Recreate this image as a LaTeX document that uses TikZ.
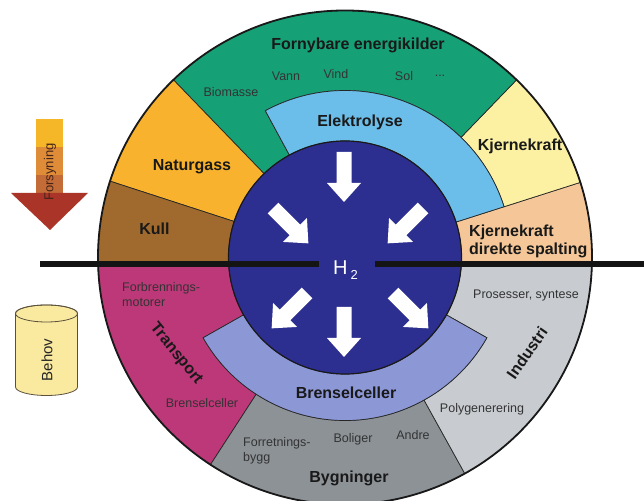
\documentclass[tikz,border=0pt]{standalone}
\usepackage{fontspec}
\setmainfont{Liberation Sans}
\definecolor{renew}{RGB}{22,160,118}
\definecolor{gas}{RGB}{248,178,46}
\definecolor{coal}{RGB}{160,106,46}
\definecolor{nuclear}{RGB}{252,240,163}
\definecolor{direct}{RGB}{245,199,152}
\definecolor{electro}{RGB}{108,190,234}
\definecolor{hcore}{RGB}{44,47,143}
\definecolor{fuelcell}{RGB}{140,151,214}
\definecolor{transp}{RGB}{189,56,120}
\definecolor{build}{RGB}{141,146,151}
\definecolor{indust}{RGB}{200,204,208}
\definecolor{cylfill}{RGB}{250,234,160}
\definecolor{cylline}{RGB}{90,80,60}
\definecolor{supA}{RGB}{245,182,40}
\definecolor{supB}{RGB}{222,140,55}
\definecolor{supC}{RGB}{196,108,55}
\definecolor{supD}{RGB}{170,52,40}
\definecolor{suptext}{RGB}{70,35,25}
\newcommand\wRi{116.5}
\newcommand\wRe{167}
\newcommand\wRf{163}
\newcommand\wRo{247}
\begin{document}
\begin{tikzpicture}[x=1pt,y=1pt,
  sector/.style={draw=black!85, line width=0.7pt},
  boldlabel/.style={font=\fontsize{16}{18}\selectfont\bfseries, text=black!90, inner sep=0pt},
  smalllabel/.style={font=\fontsize{12.5}{15}\selectfont, text=black!80, inner sep=0pt},
  whitearrow/.pic={\fill[white] (0,-7.5) -- (31,-7.5) -- (31,-17) -- (50,0) -- (31,17) -- (31,7.5) -- (0,7.5) -- cycle;}
]
\useasboundingbox (0,0) rectangle (644,500);

% ---- wheel ----
\begin{scope}[shift={(345,242.5)}]
  % upper half: supply side
  \begin{scope}
    \clip (-345,-6.5) rectangle (299,257.5);
    \filldraw[sector, fill=direct] (-5:\wRo) arc[start angle=-5, end angle=17.7, radius=\wRo]
      -- (17.7:\wRi) arc[start angle=17.7, end angle=-5, radius=\wRi] -- cycle;
    \filldraw[sector, fill=nuclear] (17.7:\wRo) arc[start angle=17.7, end angle=46, radius=\wRo]
      -- (46:\wRe) arc[start angle=46, end angle=17.7, radius=\wRe] -- cycle;
    \filldraw[sector, fill=renew] (46:\wRo) arc[start angle=46, end angle=134, radius=\wRo]
      -- (134:\wRi) arc[start angle=134, end angle=118.5, radius=\wRi]
      -- (118.5:\wRe) arc[start angle=118.5, end angle=46, radius=\wRe] -- cycle;
    \filldraw[sector, fill=gas] (134:\wRo) arc[start angle=134, end angle=162, radius=\wRo]
      -- (162:\wRi) arc[start angle=162, end angle=134, radius=\wRi] -- cycle;
    \filldraw[sector, fill=coal] (162:\wRo) arc[start angle=162, end angle=185, radius=\wRo]
      -- (185:\wRi) arc[start angle=185, end angle=162, radius=\wRi] -- cycle;
    \filldraw[sector, fill=electro] (17.7:\wRe) arc[start angle=17.7, end angle=118.5, radius=\wRe]
      -- (118.5:\wRi) arc[start angle=118.5, end angle=17.7, radius=\wRi] -- cycle;
  \end{scope}
  % lower half: demand side
  \begin{scope}
    \clip (-345,-6.5) rectangle (299,-260);
    \filldraw[sector, fill=transp] (175:\wRo) arc[start angle=175, end angle=237, radius=\wRo]
      -- (237:\wRf) arc[start angle=237, end angle=209.5, radius=\wRf]
      -- (209.5:\wRi) arc[start angle=209.5, end angle=175, radius=\wRi] -- cycle;
    \filldraw[sector, fill=build] (237:\wRo) arc[start angle=237, end angle=299, radius=\wRo]
      -- (299:\wRf) arc[start angle=299, end angle=237, radius=\wRf] -- cycle;
    \filldraw[sector, fill=indust] (299:\wRo) arc[start angle=299, end angle=365, radius=\wRo]
      -- (365:\wRi) arc[start angle=365, end angle=330.5, radius=\wRi]
      -- (330.5:\wRf) arc[start angle=330.5, end angle=299, radius=\wRf] -- cycle;
    \filldraw[sector, fill=fuelcell] (209.5:\wRf) arc[start angle=209.5, end angle=330.5, radius=\wRf]
      -- (330.5:\wRi) arc[start angle=330.5, end angle=209.5, radius=\wRi] -- cycle;
  \end{scope}
  \draw[black!90, line width=1.8pt] (0,0) circle[radius=\wRo];
  \filldraw[fill=hcore, draw=black!90, line width=1.2pt] (0,0) circle[radius=\wRi];
\end{scope}

% ---- hydrogen flow arrows ----
\pic[rotate=-90] at (344,348) {whitearrow};
\pic[rotate=-45] at (273,292) {whitearrow};
\pic[rotate=-135] at (423,292) {whitearrow};
\pic[rotate=-135] at (307,207) {whitearrow};
\pic[rotate=-90] at (344,193) {whitearrow};
\pic[rotate=-45] at (393,207) {whitearrow};

% ---- supply / demand divider ----
\coordinate (divL1) at (40,236);
\coordinate (divL2) at (319,236);
\coordinate (divR1) at (375,236);
\coordinate (divR2) at (644,236);
\draw[line width=6pt, black!92] (divL1) -- (divL2);
\draw[line width=6pt, black!92] (divR1) -- (divR2);

\node[anchor=base west, inner sep=0pt, text=white, font=\fontsize{20}{22}\selectfont] (htwo) at (333,225)
  {H\hspace{3pt}\raisebox{-5pt}{\fontsize{13}{13}\selectfont 2}};

% ---- supply arrow ----
\fill[supA] (36,381) rectangle (63,353);
\fill[supB] (36,353) rectangle (63,325);
\fill[supC] (36,325) rectangle (63,307);
\fill[supD] (11,307) -- (88,307) -- (50,270) -- cycle;
\node[rotate=90, text=suptext, font=\fontsize{13}{15}\selectfont, inner sep=0pt] (forsyning) at (50,328) {Forsyning};

% ---- demand cylinder ----
\filldraw[fill=cylfill, draw=cylline, line width=0.8pt] (15.5,186.5) -- (15.5,113)
  arc[start angle=180, end angle=360, x radius=31, y radius=8.5] -- (77.5,186.5)
  arc[start angle=0, end angle=180, x radius=31, y radius=8.5] -- cycle;
\draw[cylline, line width=0.8pt] (46.5,186.5) ellipse[x radius=31, y radius=8.5];
\node[rotate=90, text=black!85, font=\fontsize{15}{17}\selectfont, inner sep=0pt] (behov) at (47,140) {Behov};

% ---- labels, supply side ----
\node[boldlabel] (fornybare) at (358,455) {Fornybare energikilder};
\node[smalllabel] (vann) at (286,424) {Vann};
\node[smalllabel] (vind) at (336,426) {Vind};
\node[smalllabel] (sol) at (404,424) {Sol};
\node[smalllabel] (dots) at (440,424) {...};
\node[smalllabel] (biomasse) at (231,408) {Biomasse};
\node[boldlabel] (elektrolyse) at (360,378) {Elektrolyse};
\node[boldlabel] (kjernekraft) at (520,354) {Kjernekraft};
\node[boldlabel, anchor=west, align=left] (direkte) at (469,259) {Kjernekraft\\direkte spalting};
\node[boldlabel] (naturgass) at (192,333) {Naturgass};
\node[boldlabel] (kull) at (154.5,271) {Kull};

% ---- labels, demand side ----
\node[smalllabel, anchor=west, align=left] (forbrenning) at (122,205.5) {Forbrennings-\\motorer};
\node[boldlabel, rotate=-51] (transport) at (176,146) {Transport};
\node[smalllabel] (brenselT) at (202,97) {Brenselceller};
\node[boldlabel] (brensel) at (346,107) {Brenselceller};
\node[smalllabel, anchor=west, align=left] (forretning) at (243,49.5) {Forretnings-\\bygg};
\node[smalllabel] (boliger) at (353,61) {Boliger};
\node[smalllabel] (andre) at (413,65) {Andre};
\node[boldlabel] (bygninger) at (349,22) {Bygninger};
\node[smalllabel] (polygen) at (482,91) {Polygenerering};
\node[smalllabel] (prosesser) at (526,205) {Prosesser, syntese};
\node[boldlabel, rotate=55] (industri) at (527,147) {Industri};
\end{tikzpicture}
\end{document}
